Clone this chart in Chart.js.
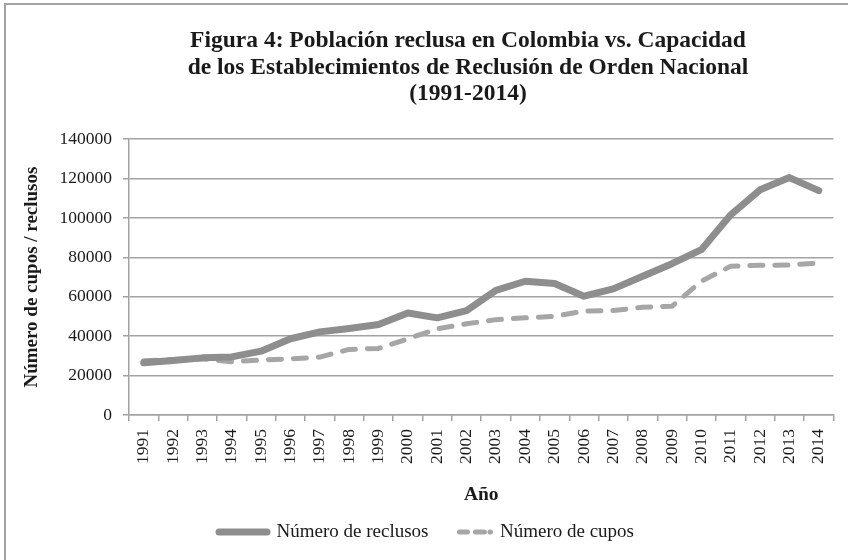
<!DOCTYPE html>
<html>
<head>
<meta charset="utf-8">
<script src="https://cdn.jsdelivr.net/npm/chart.js@4.4.1/dist/chart.umd.min.js"></script>
<style>
  html, body { margin: 0; padding: 0; background: #fff; overflow: hidden; }
  #wrap { position: relative; width: 848px; height: 560px; }
  #frame { position: absolute; left: 4px; top: 3px; width: 900px; height: 600px; border: 2px solid #a3a3a3; pointer-events: none; }
  canvas { position: absolute; left: 0; top: 0; }
</style>
</head>
<body>
<div id="wrap">
  <div id="frame"></div>
  <canvas id="chart" width="848" height="560"></canvas>
</div>
<script>
// --- Data ---
const years = ['1991', '1992', '1993', '1994', '1995', '1996', '1997', '1998', '1999', '2000', '2001', '2002',
               '2003', '2004', '2005', '2006', '2007', '2008', '2009', '2010', '2011', '2012', '2013', '2014'];
const reclusos = [26500, 27700, 29000, 29500, 32400, 38700, 42200, 43900, 45900, 51800, 49300, 53000,
                  63300, 67900, 66700, 60300, 64000, 70400, 76800, 83900, 101600, 114300, 120500, 113900];
const cupos = [27500, 28200, 28500, 27000, 27900, 28500, 29400, 33300, 33800, 38700, 43700, 46300,
               48400, 49300, 50100, 52700, 53000, 54700, 55200, 67900, 75500, 76000, 76100, 77100];
const yTicks = { min: 0, max: 140000, step: 20000 };

const titleLines = [
    'Figura 4: Población reclusa en Colombia vs. Capacidad',
    'de los Establecimientos de Reclusión de Orden Nacional',
    '(1991-2014)'
];

const SERIF = "'Liberation Serif', 'Times New Roman', serif";
const INK = '#1a1a1a';
const GRID = '#a3a3a3';

Chart.defaults.font.family = SERIF;
Chart.defaults.color = INK;

// shift title / legend sideways to where the original sits
const nudge = {
    id: 'nudge',
    afterLayout(chart) {
        if (chart.titleBlock) { chart.titleBlock.left += 49.5; chart.titleBlock.right += 49.5; }
        if (chart.legend) { chart.legend.left += 8; chart.legend.right += 8; }
    }
};

new Chart(document.getElementById('chart'), {
    type: 'line',
    data: {
        labels: years,
        datasets: [
            {
                label: 'Número de reclusos',
                data: reclusos,
                borderColor: '#8e8e8e',
                backgroundColor: '#8e8e8e',
                borderWidth: 7,
                borderCapStyle: 'round',
                borderJoinStyle: 'round',
                pointRadius: 0,
                tension: 0
            },
            {
                label: 'Número de cupos',
                data: cupos,
                borderColor: '#a6a6a6',
                backgroundColor: '#a6a6a6',
                borderWidth: 5,
                borderDash: [13, 12],
                borderCapStyle: 'round',
                borderJoinStyle: 'round',
                pointRadius: 0,
                tension: 0
            }
        ]
    },
    options: {
        responsive: false,
        animation: false,
        layout: { padding: { left: 0, right: 11, top: 0, bottom: 8.5 } },
        plugins: {
            title: {
                display: true,
                text: titleLines,
                color: INK,
                font: { size: 23.5, weight: 'bold', family: SERIF, lineHeight: 1.13 },
                padding: { top: 28, bottom: 31.5 }
            },
            legend: {
                position: 'bottom',
                labels: {
                    usePointStyle: true,
                    pointStyleWidth: 48,
                    padding: 14,
                    color: INK,
                    font: { size: 19, family: SERIF },
                    generateLabels(chart) {
                        return chart.data.datasets.map((ds, i) => ({
                            text: ds.label,
                            datasetIndex: i,
                            hidden: false,
                            fontColor: INK,
                            fillStyle: ds.borderColor,
                            strokeStyle: ds.borderColor,
                            lineWidth: ds.borderWidth,
                            lineCap: 'round',
                            lineDash: ds.borderDash ? [8, 8, 9, 5.5, 0.5, 60] : [],
                            lineDashOffset: ds.borderDash ? 74 : 0,
                            pointStyle: 'line'
                        }));
                    }
                }
            },
            tooltip: { enabled: false }
        },
        scales: {
            x: {
                offset: true,
                grid: { display: true, drawOnChartArea: false, offset: true, color: GRID, lineWidth: 1.5, tickLength: 6 },
                border: { color: GRID, width: 1.5 },
                ticks: { autoSkip: false, minRotation: 90, maxRotation: 90, padding: 8, color: INK, font: { size: 17.5 } },
                title: { display: true, text: 'Año', color: INK, font: { size: 19.5, weight: 'bold' }, padding: { top: 0, bottom: 1.8 } },
                afterFit(scale) { scale.height = 93.5; }
            },
            y: {
                min: yTicks.min,
                max: yTicks.max,
                grid: { color: GRID, lineWidth: 1.5, tickLength: 6 },
                border: { color: GRID, width: 1.5 },
                ticks: { stepSize: yTicks.step, padding: 11, color: INK, font: { size: 17.5 }, callback: v => String(v) },
                title: { display: true, text: 'Número de cupos / reclusos', color: INK, font: { size: 19, weight: 'bold' }, padding: { top: 20.5, bottom: 0 } },
                afterFit(scale) { scale.width = 129; }
            }
        }
    },
    plugins: [nudge]
});
</script>
</body>
</html>
